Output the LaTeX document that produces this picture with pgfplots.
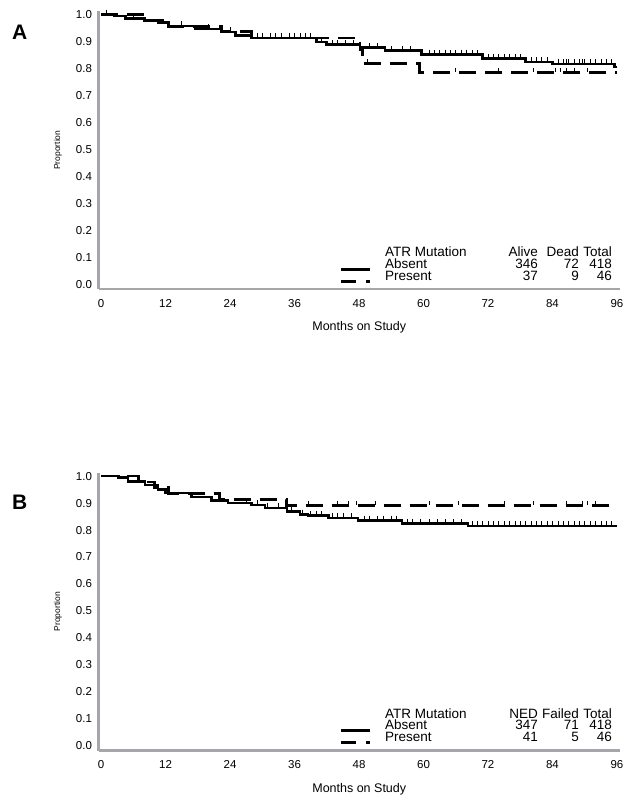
\documentclass[border=0pt]{standalone}
\usepackage{fontspec}
\setmainfont{Liberation Sans}
\usepackage{pgfplots}
\pgfplotsset{compat=1.18}
\definecolor{axgray}{RGB}{165,165,170}

\pgfplotsset{kmstyle/.style={
  scale only axis, width=521.5pt, height=277.6pt,
  xmin=-0.47, xmax=96.56, ymin=-0.018, ymax=1.012,
  axis x line=bottom, axis y line=left,
  axis line style={-, line width=2.2pt, draw=axgray},
  xtick={0,12,24,36,48,60,72,84,96},
  ytick={0,0.1,0.2,0.3,0.4,0.5,0.6,0.7,0.8,0.9,1.0},
  major tick length=0pt,
  /pgf/number format/assume math mode=true,
  tick label style={font=\fontsize{11.5}{13}\selectfont},
  yticklabel style={/pgf/number format/.cd, fixed, fixed zerofill, precision=1, /tikz/.cd, xshift=-3pt},
  xticklabel style={yshift=-6.5pt},
  xlabel={Months on Study}, ylabel={Proportion},
  xlabel style={font=\fontsize{12.5}{14}\selectfont, at={(axis description cs:0.5,-0.138)}, anchor=center},
  ylabel style={font=\fontsize{8.5}{10}\selectfont, at={(axis description cs:-0.0777,0.5)}, anchor=center},
  clip=false,
  solidkm/.style={const plot, black, line width=2.6pt, line cap=butt},
  dashkm/.style={const plot, black, line width=2.6pt, line cap=butt, dash pattern=on 17pt off 9pt},
  censor/.style={only marks, mark=|, mark size=2pt, mark options={black, line width=0.7pt, yshift=2.7pt}},
}}

\newcommand{\lt}[3]{\node[anchor=base west, inner sep=0pt, font=\fontsize{13.5}{14}\selectfont] at (axis description cs:#1,#2) {#3};}
\newcommand{\rt}[3]{\node[anchor=base east, inner sep=0pt, font=\fontsize{13.5}{14}\selectfont] at (axis description cs:#1,#2) {#3};}
\newcommand{\kmlegend}[8]{%
  \lt{0.5494}{0.1163}{ATR Mutation}
  \lt{0.5494}{0.0746}{Absent}
  \lt{0.5494}{0.0324}{Present}
  \rt{0.8428}{0.1163}{#1}
  \rt{0.9214}{0.1163}{#2}
  \rt{0.9847}{0.1163}{Total}
  \rt{0.8428}{0.0746}{#3}
  \rt{0.9214}{0.0746}{#4}
  \rt{0.9847}{0.0746}{#5}
  \rt{0.8428}{0.0324}{#6}
  \rt{0.9214}{0.0324}{#7}
  \rt{0.9847}{0.0324}{#8}
  \draw[line width=3pt] (axis description cs:0.465,0.0720) -- (axis description cs:0.5206,0.0720);
  \draw[line width=3pt] (axis description cs:0.465,0.0288) -- (axis description cs:0.4938,0.0288);
  \draw[line width=3pt] (axis description cs:0.513,0.0288) -- (axis description cs:0.5206,0.0288);
}

\begin{document}
\begin{tikzpicture}
\useasboundingbox (0,0) rectangle (641pt,-804pt);

\node[font=\bfseries\fontsize{21}{24}\selectfont] at (19.6pt,-32.5pt) {A};
\node[font=\bfseries\fontsize{21}{24}\selectfont] at (19.6pt,-502.5pt) {B};

% ---------------- Panel A ----------------
\begin{axis}[kmstyle, at={(98.5pt,-289pt)}, anchor=south west]
\addplot[solidkm] coordinates {(0,1.0) (2.5,0.995) (4.6,0.985) (8.1,0.979) (10.6,0.970) (12.5,0.958) (17.5,0.946) (22.4,0.935) (25,0.923) (28,0.914) (40.1,0.898) (42,0.889) (48.2,0.877) (52.8,0.866) (59.6,0.851) (71,0.837) (79,0.825) (84,0.817) (95.5,0.806) (96,0.806)};
\addplot[dashkm] coordinates {(0,1.0) (8.1,0.978) (12.5,0.957) (22.4,0.937) (28,0.914) (48.2,0.87) (48.6,0.818) (59.3,0.785) (96,0.785)};
\addplot[censor] coordinates {(1,1.0) (6,0.985) (15,0.958) (20,0.946) (24,0.935) (29,0.914) (30,0.914) (31.5,0.914) (32.5,0.914) (33.5,0.914) (35,0.914) (36,0.914) (37,0.914) (38,0.914) (39,0.914) (41,0.898) (43,0.889) (44,0.889) (45.5,0.889) (47,0.889) (50,0.877) (51.5,0.877) (54,0.866) (56,0.866) (57.5,0.866) (61,0.851) (62,0.851) (63,0.851) (64,0.851) (65,0.851) (66,0.851) (67,0.851) (68,0.851) (69,0.851) (70,0.851) (72,0.837) (73,0.837) (74,0.837) (75,0.837) (76,0.837) (77,0.837) (78,0.837) (80,0.825) (81,0.825) (82,0.825) (83,0.825) (85,0.817) (86,0.817) (86.5,0.817) (87,0.817) (88,0.817) (89,0.817) (89.5,0.817) (90,0.817) (91,0.817) (92,0.817) (93,0.817) (94,0.817) (95,0.817)};
\addplot[censor] coordinates {(49.5,0.818) (66,0.785) (74,0.785) (80.5,0.785) (84.5,0.785) (85.5,0.785) (86.5,0.785) (88,0.785) (90.5,0.785)};
\kmlegend{Alive}{Dead}{346}{72}{418}{37}{9}{46}
\end{axis}

% ---------------- Panel B ----------------
\begin{axis}[kmstyle, at={(98.5pt,-750.5pt)}, anchor=south west]
\addplot[solidkm] coordinates {(0,1.0) (3.2,0.994) (5,0.981) (8.2,0.967) (10.6,0.950) (12,0.937) (16.8,0.922) (20.5,0.910) (23.6,0.900) (28,0.893) (30.5,0.882) (34.6,0.868) (37,0.858) (38.5,0.853) (42.3,0.845) (47.8,0.836) (56,0.824) (68.3,0.815) (96,0.815)};
\addplot[dashkm] coordinates {(0,1.0) (7,0.978) (10,0.957) (12.5,0.935) (22,0.913) (34.5,0.891) (96,0.891)};
\addplot[censor] coordinates {(27,0.900) (29,0.893) (31,0.882) (33,0.882) (35.5,0.868) (37.5,0.858) (39,0.853) (40,0.853) (41,0.853) (43,0.845) (44,0.845) (45,0.845) (46.5,0.845) (49,0.836) (50,0.836) (51.5,0.836) (52.5,0.836) (54,0.836) (55,0.836) (57,0.824) (58,0.824) (59.5,0.824) (61,0.824) (62.5,0.824) (64,0.824) (65.5,0.824) (67,0.824) (69,0.815) (70,0.815) (71,0.815) (72,0.815) (73,0.815) (74,0.815) (75,0.815) (76,0.815) (77,0.815) (78,0.815) (79,0.815) (80,0.815) (81,0.815) (82,0.815) (83,0.815) (84,0.815) (85,0.815) (86,0.815) (87,0.815) (88,0.815) (89,0.815) (90,0.815) (91,0.815) (92,0.815) (93,0.815) (94,0.815) (95,0.815)};
\addplot[censor] coordinates {(38.5,0.891) (44,0.891) (46,0.891) (47.5,0.891) (51,0.891) (61,0.891) (66.5,0.891) (75,0.891) (80.5,0.891) (86.5,0.891) (89.5,0.891) (90.5,0.891) (92,0.891)};
\kmlegend{NED}{Failed}{347}{71}{418}{41}{5}{46}
\end{axis}
\end{tikzpicture}
\end{document}
